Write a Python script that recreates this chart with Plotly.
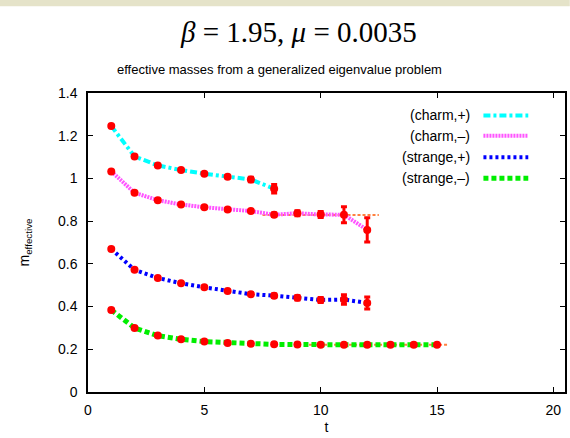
import plotly.graph_objects as go

# ---- data ----
t_charm_plus = [1, 2, 3, 4, 5, 6, 7, 8]
m_charm_plus = [1.245, 1.103, 1.061, 1.039, 1.022, 1.008, 0.995, 0.952]
e_charm_plus = [0.003, 0.003, 0.003, 0.004, 0.004, 0.005, 0.01, 0.02]

t_charm_minus = [1, 2, 3, 4, 5, 6, 7, 8, 9, 10, 11, 12]
m_charm_minus = [1.033, 0.933, 0.898, 0.878, 0.865, 0.855, 0.847, 0.830, 0.837, 0.831, 0.830, 0.759]
e_charm_minus = [0.003, 0.003, 0.003, 0.003, 0.003, 0.004, 0.005, 0.008, 0.012, 0.014, 0.037, 0.057]

t_strange_plus = [1, 2, 3, 4, 5, 6, 7, 8, 9, 10, 11, 12]
m_strange_plus = [0.670, 0.572, 0.534, 0.509, 0.490, 0.473, 0.458, 0.451, 0.441, 0.431, 0.433, 0.417]
e_strange_plus = [0.003, 0.003, 0.003, 0.003, 0.003, 0.003, 0.004, 0.008, 0.01, 0.012, 0.022, 0.028]

t_strange_minus = [1, 2, 3, 4, 5, 6, 7, 8, 9, 10, 11, 12, 13, 14, 15]
m_strange_minus = [0.384, 0.300, 0.264, 0.247, 0.236, 0.230, 0.226, 0.223, 0.222, 0.221, 0.221, 0.221, 0.221, 0.221, 0.221]
e_strange_minus = [0.003] * 15

fit_charm_minus_t = [7.5, 12.5]
fit_charm_minus_m = [0.829, 0.829]
fit_strange_minus_t = [9.5, 15.5]
fit_strange_minus_m = [0.221, 0.221]

series_names = ["(charm,+)", "(charm,\u2013)", "(strange,+)", "(strange,\u2013)"]
x_ticks = [0, 5, 10, 15, 20]
y_ticks = [0, 0.2, 0.4, 0.6, 0.8, 1, 1.2, 1.4]
y_tick_labels = ["0", "0.2", "0.4", "0.6", "0.8", "1", "1.2", "1.4"]

# ---- styles ----
styles = [
    dict(color="#00ffff", width=4, dash="7px,3px,3px,3px"),
    dict(color="#ff55ff", width=4, dash="2px,1px"),
    dict(color="#0000ff", width=4, dash="3px,3px"),
    dict(color="#00ee00", width=5, dash="5px,3px"),
]

fig = go.Figure()

# fit lines (drawn beneath)
for ft, fm in [(fit_charm_minus_t, fit_charm_minus_m), (fit_strange_minus_t, fit_strange_minus_m)]:
    fig.add_trace(go.Scatter(x=ft, y=fm, mode="lines",
                             line=dict(color="#ff8040", width=2, dash="3px,2px"),
                             showlegend=False, hoverinfo="skip"))

data = [
    (t_charm_plus, m_charm_plus, e_charm_plus),
    (t_charm_minus, m_charm_minus, e_charm_minus),
    (t_strange_plus, m_strange_plus, e_strange_plus),
    (t_strange_minus, m_strange_minus, e_strange_minus),
]
for (tt, mm, ee), st, nm in zip(data, styles, series_names):
    fig.add_trace(go.Scatter(x=tt, y=mm, mode="lines", line=st, name=nm, showlegend=False))
for (tt, mm, ee), nm in zip(data, series_names):
    fig.add_trace(go.Scatter(
        x=tt, y=mm, mode="markers", name=nm, showlegend=False,
        marker=dict(color="#ff0000", size=8, symbol="circle", line=dict(width=0)),
        error_y=dict(type="data", array=ee, visible=True, color="#ff0000", thickness=3, width=3),
    ))

font = "Liberation Sans, Arial, sans-serif"

# custom legend (text right-aligned, sample on the right)
legend_rows = [0.925, 0.857, 0.785, 0.715]
for nm, st, yy in zip(series_names, styles, legend_rows):
    fig.add_annotation(x=0.804, y=yy, xref="paper", yref="paper", text=nm, showarrow=False,
                       xanchor="right", yanchor="middle", font=dict(family=font, size=14, color="black"))
    fig.add_shape(type="line", xref="paper", yref="paper", x0=0.829, x1=0.923, y0=yy, y1=yy,
                  line=st)

# top band
fig.add_shape(type="rect", xref="paper", yref="paper", x0=-0.2, x1=1.01, y0=1.29, y1=1.32,
              fillcolor="#e5e3c9", line=dict(width=0), layer="below")

# titles
fig.add_annotation(x=0.441, y=1.205, xref="paper", yref="paper",
                   text="<i>\u03b2</i> = 1.95, <i>\u03bc</i> = 0.0035", showarrow=False,
                   xanchor="center", yanchor="middle",
                   font=dict(family="Liberation Serif, DejaVu Serif, serif", size=29, color="black"))
fig.add_annotation(x=0.402, y=1.079, xref="paper", yref="paper",
                   text="effective masses from a generalized eigenvalue problem", showarrow=False,
                   xanchor="center", yanchor="middle",
                   font=dict(family=font, size=13, color="black"))

axis_common = dict(showgrid=False, zeroline=False, showline=True, linecolor="black", linewidth=1.5,
                   mirror="allticks", ticks="inside", ticklen=5, tickwidth=1, tickcolor="black",
                   tickfont=dict(family=font, size=14, color="black"))

fig.update_layout(
    width=570, height=438,
    margin=dict(l=88, r=3, t=93, b=46),
    paper_bgcolor="white", plot_bgcolor="white",
    showlegend=False,
    xaxis=dict(range=[0, 20.5], tickvals=x_ticks, ticklabelstandoff=4,
               title=dict(text="t", font=dict(family=font, size=14, color="black"), standoff=6),
               **axis_common),
    yaxis=dict(range=[0, 1.4], tickvals=y_ticks, ticktext=y_tick_labels, ticklabelstandoff=6,
               title=dict(text="m<sub>effective</sub>", font=dict(family=font, size=14, color="black"),
                          standoff=25),
               **axis_common),
)

fig.write_html("out.html", config={"displayModeBar": False},
               post_script="document.body.style.margin='0';document.body.style.overflow='hidden';")
